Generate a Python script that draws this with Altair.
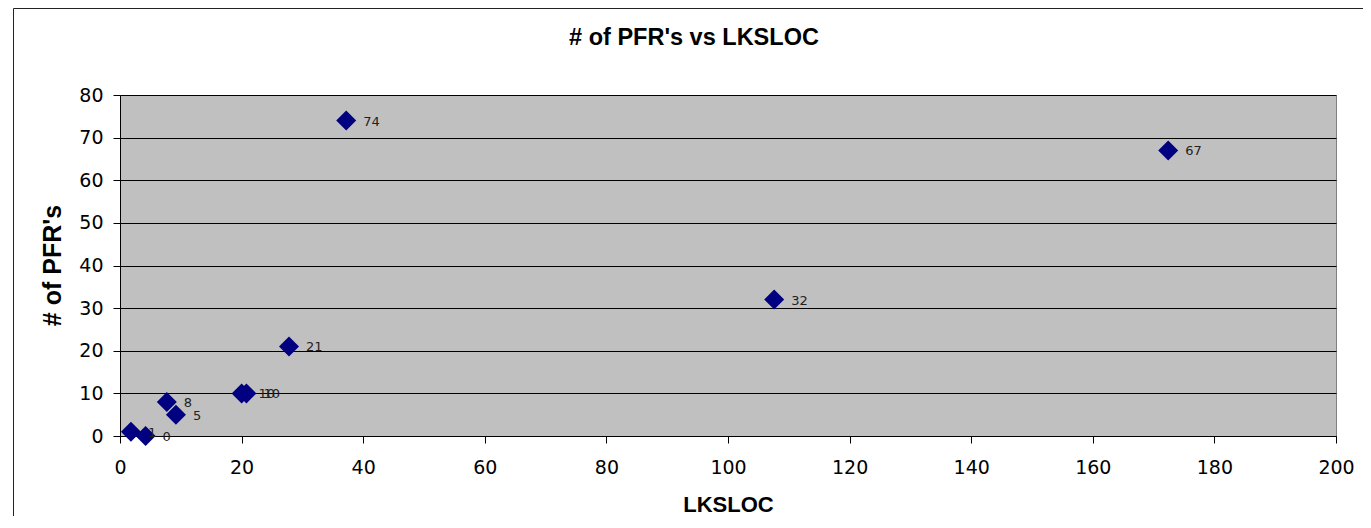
import altair as alt
import pandas as pd

lksloc = [37.2, 172.4, 107.6, 27.8, 20.0, 20.8, 7.7, 9.2, 1.8, 4.2]
pfrs = [74, 67, 32, 21, 10, 10, 8, 5, 1, 0]
labels = [str(v) for v in pfrs]
chart_title = "# of PFR's vs LKSLOC"

df = pd.DataFrame({"LKSLOC": lksloc, "PFR": pfrs, "label": labels})

FONT = "DejaVu Sans"
TFONT = "Liberation Sans"

base = alt.Chart(df)
one = alt.Chart(pd.DataFrame({"t": [chart_title]}))

frame = one.mark_rect(fill=None, stroke="#222222", strokeWidth=1).encode(
    x=alt.value(13.5 - 120), x2=alt.value(1400 - 120),
    y=alt.value(8.5 - 95), y2=alt.value(560 - 95)
)

title = one.mark_text(
    font=TFONT, fontSize=23.5, fontWeight="bold", color="black",
    align="center", baseline="alphabetic"
).encode(x=alt.value(694 - 120), y=alt.value(45 - 95), text="t:N")

points = base.mark_point(
    shape="diamond", filled=True, size=400, color="#000080", opacity=1
).encode(
    x=alt.X("LKSLOC:Q", scale=alt.Scale(domain=[0, 200], nice=False),
            axis=alt.Axis(title="LKSLOC", values=list(range(0, 201, 20)),
                          grid=False, domain=True, domainColor="black",
                          tickColor="black", tickSize=7, labelPadding=15,
                          labelFlush=False,
                          labelFontSize=19, labelFont=FONT, labelColor="black",
                          titleFont=TFONT, titleFontSize=22, titleFontWeight="bold",
                          titleColor="black", titleBaseline="alphabetic",
                          titleY=75)),
    y=alt.Y("PFR:Q", scale=alt.Scale(domain=[0, 80], nice=False),
            axis=alt.Axis(title="# of PFR's", values=list(range(0, 81, 10)),
                          grid=True, gridColor="black", gridWidth=1,
                          domain=True, domainColor="black",
                          tickColor="black", tickSize=7, labelPadding=10,
                          labelFlush=False,
                          labelFontSize=19, labelFont=FONT, labelColor="black",
                          titleFont=TFONT, titleFontSize=25, titleFontWeight="bold",
                          titleColor="black", titleAngle=270,
                          titleBaseline="middle", titleX=52 - 120, titleY=170)),
)

text = base.mark_text(
    align="left", baseline="middle", dx=17, dy=1, fontSize=13, font=FONT, color="#222222"
).encode(x="LKSLOC:Q", y="PFR:Q", text="label:N")

chart = alt.layer(frame, title, points, text).properties(
    width=1216, height=341,
    autosize=alt.AutoSizeParams(type="none"),
    padding={"left": 112, "top": 87, "right": 27, "bottom": 80},
    background="white",
).configure_view(fill="#C0C0C0", stroke="#808080", strokeWidth=1)

chart.save("out.html", embed_options={"renderer": "svg", "actions": False})
